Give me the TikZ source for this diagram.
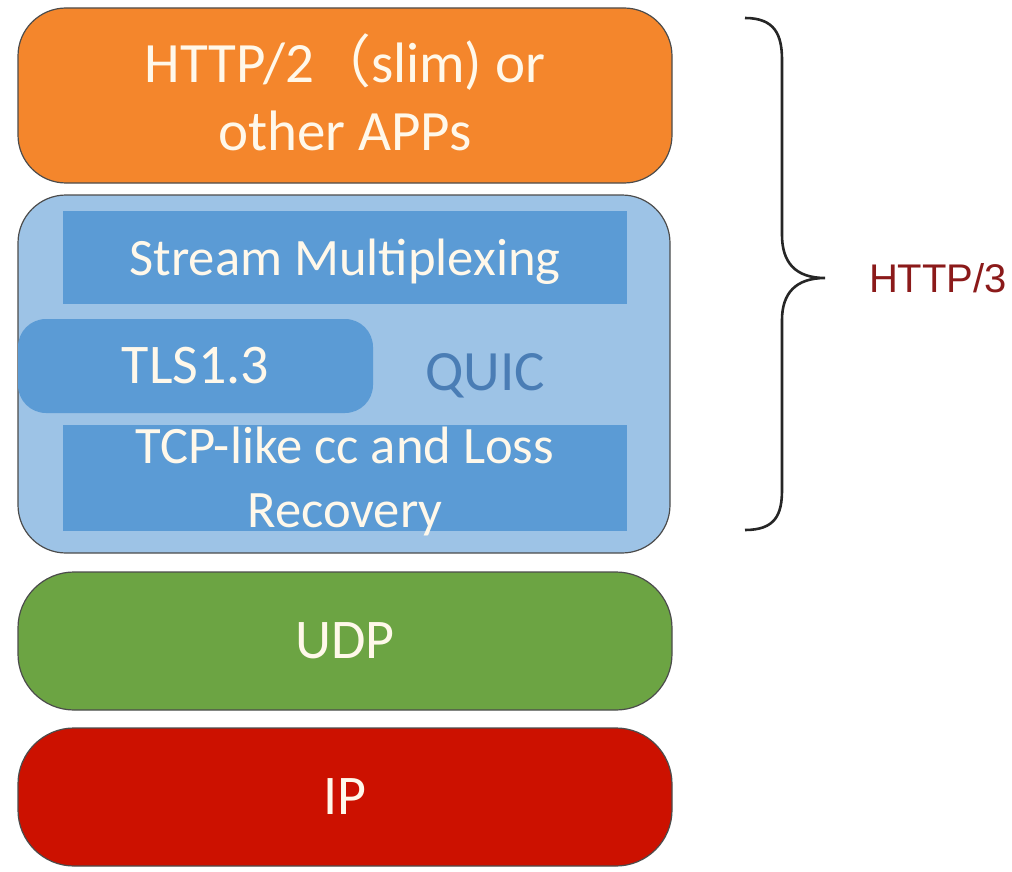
\documentclass[tikz,border=0pt]{standalone}
\usepackage{fontspec}
\setmainfont{Carlito}
\newfontfamily\arialf{Liberation Sans}
\newfontfamily\cjkf{Noto Sans CJK SC}
\definecolor{corange}{HTML}{F4862C}
\definecolor{clblue}{HTML}{9DC3E6}
\definecolor{cmblue}{HTML}{5B9BD5}
\definecolor{cquic}{HTML}{4A7DB5}
\definecolor{cgreen}{HTML}{6CA443}
\definecolor{cred}{HTML}{CC1100}
\definecolor{cdark}{HTML}{8B1A1A}
\definecolor{ctext}{HTML}{FFF8EA}
\tikzset{
  layer/.style={draw=black!70, line width=0.6pt, rounded corners=24pt, inner sep=0pt, text=ctext, align=center},
  inner/.style={fill=cmblue, inner sep=0pt},
  label/.style={inner sep=0pt, text=ctext, align=center, anchor=base},
}
\begin{document}
\begin{tikzpicture}[x=0.5pt,y=-0.5pt]
\useasboundingbox (0,0) rectangle (1012,872);
\node[layer, fill=corange, minimum width=327pt, minimum height=87.5pt] (app) at (345,95.5) {};
\node[label, font=\fontsize{28.5}{34}\selectfont] (apptext) at (345,150) {HTTP/2{\cjkf （}slim) or\\other APPs};
\node[layer, fill=clblue, minimum width=326pt, minimum height=179pt] (quicbox) at (344,374) {};
\node[inner, minimum width=282pt, minimum height=46.5pt] (stream) at (345,257.5) {};
\node[label, font=\fontsize{26.3}{31}\selectfont] (streamtext) at (345,275) {Stream Multiplexing};
\node[inner, rounded corners=14pt, minimum width=177.5pt, minimum height=47pt, text=ctext, font=\fontsize{28}{32}\selectfont] (tls) at (195.5,366) {TLS1.3};
\node[text=cquic, font=\fontsize{28.5}{32}\selectfont] (quic) at (485,376) {QUIC};
\node[inner, minimum width=282pt, minimum height=53pt] (tcp) at (345,478) {};
\node[label, font=\fontsize{26.3}{32}\selectfont] (tcptext) at (345,527) {TCP-like cc and Loss\\Recovery};
\node[layer, rounded corners=28pt, fill=cgreen, minimum width=327pt, minimum height=69pt, font=\fontsize{28}{32}\selectfont] (udp) at (345,641) {UDP};
\node[layer, rounded corners=28pt, fill=cred, minimum width=327pt, minimum height=69pt, font=\fontsize{28}{32}\selectfont] (ip) at (345,797) {IP};
\coordinate (bt) at (745,18);
\coordinate (bm) at (825,278);
\coordinate (bb) at (745,530);
\draw[line width=1.3pt, black!85] (bt) .. controls (775,18) and (782,35) .. (782,60)
  -- (782,235) .. controls (782,262) and (795,278) .. (bm)
  .. controls (795,278) and (782,294) .. (782,320)
  -- (782,490) .. controls (782,515) and (775,530) .. (bb);
\node[text=cdark, font=\arialf\fontsize{20}{24}\selectfont] (h3) at (938,278) {HTTP/3};
\end{tikzpicture}
\end{document}
